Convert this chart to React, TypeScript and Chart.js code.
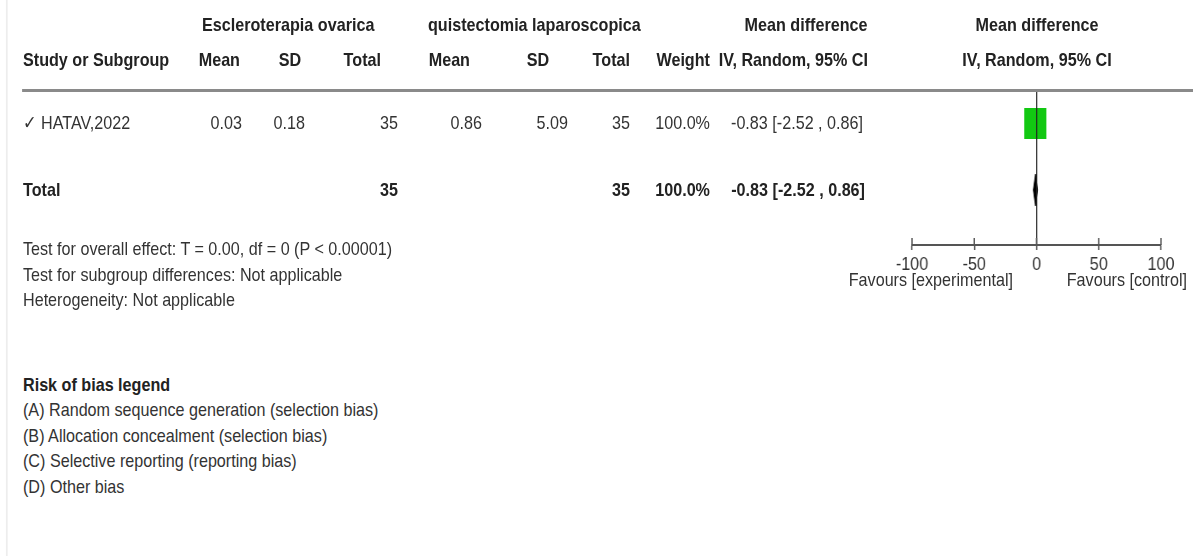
import React, { useEffect, useRef } from "react";
import { Chart, registerables } from "chart.js";

Chart.register(...registerables);

// ---------- data ----------
const studyNames = ["✓ HATAV,2022"];
const expMean = [0.03];
const expSD = [0.18];
const expTotal = [35];
const ctlMean = [0.86];
const ctlSD = [5.09];
const ctlTotal = [35];
const studyWeight = [100.0];
const studyMD = [-0.83];
const studyLow = [-2.52];
const studyHigh = [0.86];

const totalExp = 35;
const totalCtl = 35;
const totalWeight = 100.0;
const pooledMD = -0.83;
const pooledLow = -2.52;
const pooledHigh = 0.86;

const xTicks = [-100, -50, 0, 50, 100];
const favoursLeft = "Favours [experimental]";
const favoursRight = "Favours [control]";

const footerLines = [
  "Test for overall effect: T = 0.00, df = 0 (P < 0.00001)",
  "Test for subgroup differences: Not applicable",
  "Heterogeneity: Not applicable",
];
const biasTitle = "Risk of bias legend";
const biasLines = [
  "(A) Random sequence generation (selection bias)",
  "(B) Allocation concealment (selection bias)",
  "(C) Selective reporting (reporting bias)",
  "(D) Other bias",
];

// ---------- layout / style ----------
const S = 0.85; // horizontal squeeze of the reference picture
const X = (x: number) => x / S;
const FONT = "'Liberation Sans', Arial, sans-serif";
const FS = 19;
const CW = Math.round(1193 / S);
const CH = 300;

const fmt = (v: number) => v.toFixed(2);
const ci = (m: number, l: number, h: number) => `${fmt(m)} [${fmt(l)} , ${fmt(h)}]`;

function Txt(props: { x: number; y: number; align?: string; bold?: boolean; children: any }) {
  const { x, y, align = "left", bold = false, children } = props;
  const style: any = {
    position: "absolute",
    top: y - 11,
    left: X(x),
    lineHeight: "22px",
    fontSize: FS,
    fontFamily: FONT,
    fontWeight: bold ? 700 : 400,
    whiteSpace: "nowrap",
    color: bold ? "#222" : "#333",
  };
  if (align === "right") style.transform = "translateX(-100%)";
  if (align === "center") style.transform = "translateX(-50%)";
  return <div style={style}>{children}</div>;
}

export default function App() {
  const ref = useRef<HTMLCanvasElement | null>(null);

  useEffect(() => {
    if (!ref.current) return;
    const sq = document.createElement("canvas");
    sq.width = Math.round(22 / S);
    sq.height = 31;
    const g = sq.getContext("2d")!;
    g.fillStyle = "#12c812";
    g.fillRect(0, 0, sq.width, sq.height);

    const diamondHalf = 0.24;
    const studyY = 1;
    const totalY = 2;

    const tickAbove = {
      id: "tickAbove",
      afterDraw(chart: any) {
        const sc = chart.scales.x;
        const ctx = chart.ctx;
        const b = chart.chartArea.bottom;
        ctx.save();
        ctx.strokeStyle = "#555";
        ctx.lineWidth = 1.6;
        sc.ticks.forEach((t: any) => {
          const px = sc.getPixelForValue(t.value);
          ctx.beginPath();
          ctx.moveTo(px, b - 7);
          ctx.lineTo(px, b);
          ctx.stroke();
        });
        ctx.restore();
      },
    };

    const chart = new Chart(ref.current, {
      type: "scatter",
      data: {
        datasets: [
          ...studyMD.map((m, i) => ({
            type: "line" as const,
            order: 2,
            data: [
              { x: studyLow[i], y: studyY + i },
              { x: studyHigh[i], y: studyY + i },
            ],
            borderColor: "#111",
            borderWidth: 1,
            pointRadius: 0,
          })),
          {
            type: "scatter" as const,
            order: 0,
            data: studyMD.map((m, i) => ({ x: m, y: studyY + i })),
            pointStyle: sq as any,
            pointRadius: 10,
          },
          {
            type: "line" as const,
            order: 1,
            data: [
              { x: pooledLow, y: totalY },
              { x: pooledMD, y: totalY - diamondHalf },
              { x: pooledHigh, y: totalY },
              { x: pooledMD, y: totalY + diamondHalf },
              { x: pooledLow, y: totalY },
            ],
            borderColor: "#000",
            backgroundColor: "#000",
            borderWidth: 1,
            pointRadius: 0,
            fill: "shape" as any,
          },
        ],
      },
      options: {
        animation: false,
        responsive: false,
        devicePixelRatio: 1,
        layout: {
          padding: { left: X(912), right: CW - X(1161), top: 90, bottom: 15 },
        },
        plugins: { legend: { display: false }, tooltip: { enabled: false } },
        scales: {
          x: {
            type: "linear",
            min: -100,
            max: 100,
            afterBuildTicks: (s: any) => {
              s.ticks = xTicks.map((v) => ({ value: v }));
            },
            afterFit: (s: any) => {
              s.height = 40;
            },
            border: { display: true, color: "#555", width: 2, z: 2 },
            grid: {
              z: 1,
              color: (c: any) => (c.tick && c.tick.value === 0 ? "#222" : "rgba(0,0,0,0)"),
              lineWidth: 1.3,
              tickColor: "#555",
              tickWidth: 1.6,
              tickLength: 5,
              drawTicks: true,
            },
            ticks: {
              color: "#333",
              padding: 3,
              font: { family: FONT, size: FS },
            },
          },
          y: {
            type: "linear",
            reverse: true,
            min: 0.485,
            max: 2.833,
            display: false,
          },
        },
      },
      plugins: [tickAbove],
    } as any);
    return () => chart.destroy();
  }, []);

  return (
    <div
      style={{
        position: "fixed",
        left: 0,
        top: 0,
        width: CW,
        height: 556,
        background: "#fff",
        transform: `scaleX(${S})`,
        transformOrigin: "0 0",
        overflow: "hidden",
      }}
    >
      <div style={{ position: "absolute", left: X(6), top: 0, width: 2, height: 556, background: "#ededed" }} />
      <canvas
        ref={ref}
        width={CW}
        height={CH}
        style={{ position: "absolute", left: 0, top: 0, width: CW, height: CH }}
      />
      {/* header row 1 */}
      <Txt x={202} y={25} bold>Escleroterapia ovarica</Txt>
      <Txt x={428} y={25} bold>quistectomia laparoscopica</Txt>
      <Txt x={806} y={25} align="center" bold>Mean difference</Txt>
      <Txt x={1037} y={25} align="center" bold>Mean difference</Txt>
      {/* header row 2 */}
      <Txt x={23} y={60} bold>Study or Subgroup</Txt>
      <Txt x={240} y={60} align="right" bold>Mean</Txt>
      <Txt x={290} y={60} align="center" bold>SD</Txt>
      <Txt x={381} y={60} align="right" bold>Total</Txt>
      <Txt x={470} y={60} align="right" bold>Mean</Txt>
      <Txt x={538} y={60} align="center" bold>SD</Txt>
      <Txt x={630} y={60} align="right" bold>Total</Txt>
      <Txt x={710} y={60} align="right" bold>Weight</Txt>
      <Txt x={868} y={60} align="right" bold>IV, Random, 95% CI</Txt>
      <Txt x={1037} y={60} align="center" bold>IV, Random, 95% CI</Txt>
      <div style={{ position: "absolute", left: X(22), top: 89, width: X(1193) - X(22), height: 3, background: "#8a8a8a" }} />
      {/* study rows */}
      {studyNames.map((n, i) => (
        <React.Fragment key={n}>
          <Txt x={23} y={123}>{n}</Txt>
          <Txt x={242} y={123} align="right">{fmt(expMean[i])}</Txt>
          <Txt x={305} y={123} align="right">{fmt(expSD[i])}</Txt>
          <Txt x={398} y={123} align="right">{expTotal[i]}</Txt>
          <Txt x={482} y={123} align="right">{fmt(ctlMean[i])}</Txt>
          <Txt x={568} y={123} align="right">{fmt(ctlSD[i])}</Txt>
          <Txt x={630} y={123} align="right">{ctlTotal[i]}</Txt>
          <Txt x={710} y={123} align="right">{studyWeight[i].toFixed(1)}%</Txt>
          <Txt x={863} y={123} align="right">{ci(studyMD[i], studyLow[i], studyHigh[i])}</Txt>
        </React.Fragment>
      ))}
      {/* total row */}
      <Txt x={23} y={190} bold>Total</Txt>
      <Txt x={398} y={190} align="right" bold>{totalExp}</Txt>
      <Txt x={630} y={190} align="right" bold>{totalCtl}</Txt>
      <Txt x={710} y={190} align="right" bold>{totalWeight.toFixed(1)}%</Txt>
      <Txt x={865} y={190} align="right" bold>{ci(pooledMD, pooledLow, pooledHigh)}</Txt>
      {/* favours */}
      <Txt x={1013} y={280} align="right">{favoursLeft}</Txt>
      <Txt x={1187} y={280} align="right">{favoursRight}</Txt>
      {/* footer */}
      {footerLines.map((t, i) => (
        <Txt key={t} x={23} y={249 + i * 25.5}>{t}</Txt>
      ))}
      <Txt x={23} y={385} bold>{biasTitle}</Txt>
      {biasLines.map((t, i) => (
        <Txt key={t} x={23} y={410 + i * 25.5}>{t}</Txt>
      ))}
    </div>
  );
}
